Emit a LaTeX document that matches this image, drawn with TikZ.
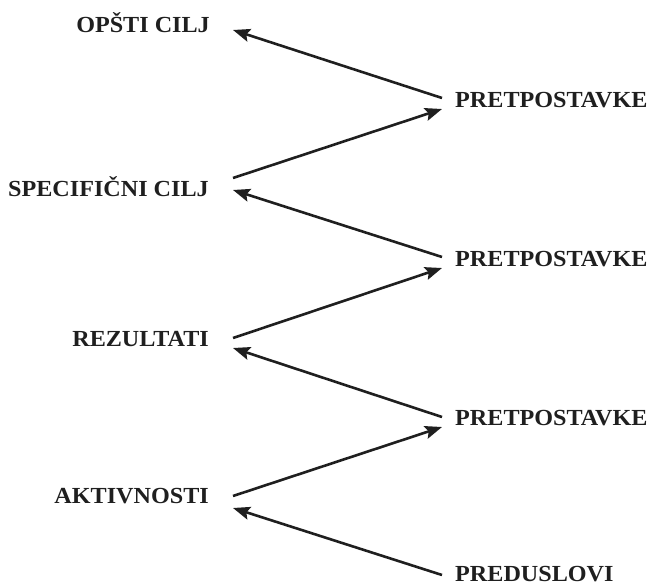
\documentclass[tikz,border=0pt]{standalone}
\usepackage{fontspec}
\setmainfont[FakeStretch=1.05]{Liberation Serif}
\usetikzlibrary{arrows.meta}
\tikzset{
  level/.style={font=\fontsize{23}{26}\selectfont\bfseries, text=black!88, inner sep=0pt, anchor=base east},
  factor/.style={font=\fontsize{23}{26}\selectfont\bfseries, text=black!88, inner sep=0pt, anchor=base west},
  link/.style={line width=2.6pt, draw=black!88, -{Stealth[length=17pt,width=13pt,inset=3pt]}}
}
\begin{document}
\begin{tikzpicture}[x=1pt,y=-1pt]
  \useasboundingbox (0,0) rectangle (656,586);
  % logical levels on the left
  \node[level] (opsti) at (210,33)  {OPŠTI CILJ};
  \node[level] (spec)  at (209,196) {SPECIFIČNI CILJ};
  \node[level] (rez)   at (209,346) {REZULTATI};
  \node[level] (akt)   at (209,503) {AKTIVNOSTI};
  % assumptions and preconditions on the right
  \node[factor] (p1)  at (455,107) {PRETPOSTAVKE};
  \node[factor] (p2)  at (455,266) {PRETPOSTAVKE};
  \node[factor] (p3)  at (455,425) {PRETPOSTAVKE};
  \node[factor] (pre) at (455,581) {PREDUSLOVI};
  % connector end points
  \coordinate (opsti-in) at (233,30);
  \coordinate (spec-out) at (233,178);
  \coordinate (spec-in)  at (233,190);
  \coordinate (rez-out)  at (233,338);
  \coordinate (rez-in)   at (233,348);
  \coordinate (akt-out)  at (233,496);
  \coordinate (akt-in)   at (233,508);
  \coordinate (p1-in)  at (442,109);
  \coordinate (p1-out) at (442,98);
  \coordinate (p2-in)  at (442,268);
  \coordinate (p2-out) at (442,257);
  \coordinate (p3-in)  at (442,427);
  \coordinate (p3-out) at (442,417);
  \coordinate (pre-out) at (442,575);
  % vertical logic zig-zag
  \draw[link] (p1-out) -- (opsti-in);
  \draw[link] (spec-out) -- (p1-in);
  \draw[link] (p2-out) -- (spec-in);
  \draw[link] (rez-out) -- (p2-in);
  \draw[link] (p3-out) -- (rez-in);
  \draw[link] (akt-out) -- (p3-in);
  \draw[link] (pre-out) -- (akt-in);
\end{tikzpicture}
\end{document}
